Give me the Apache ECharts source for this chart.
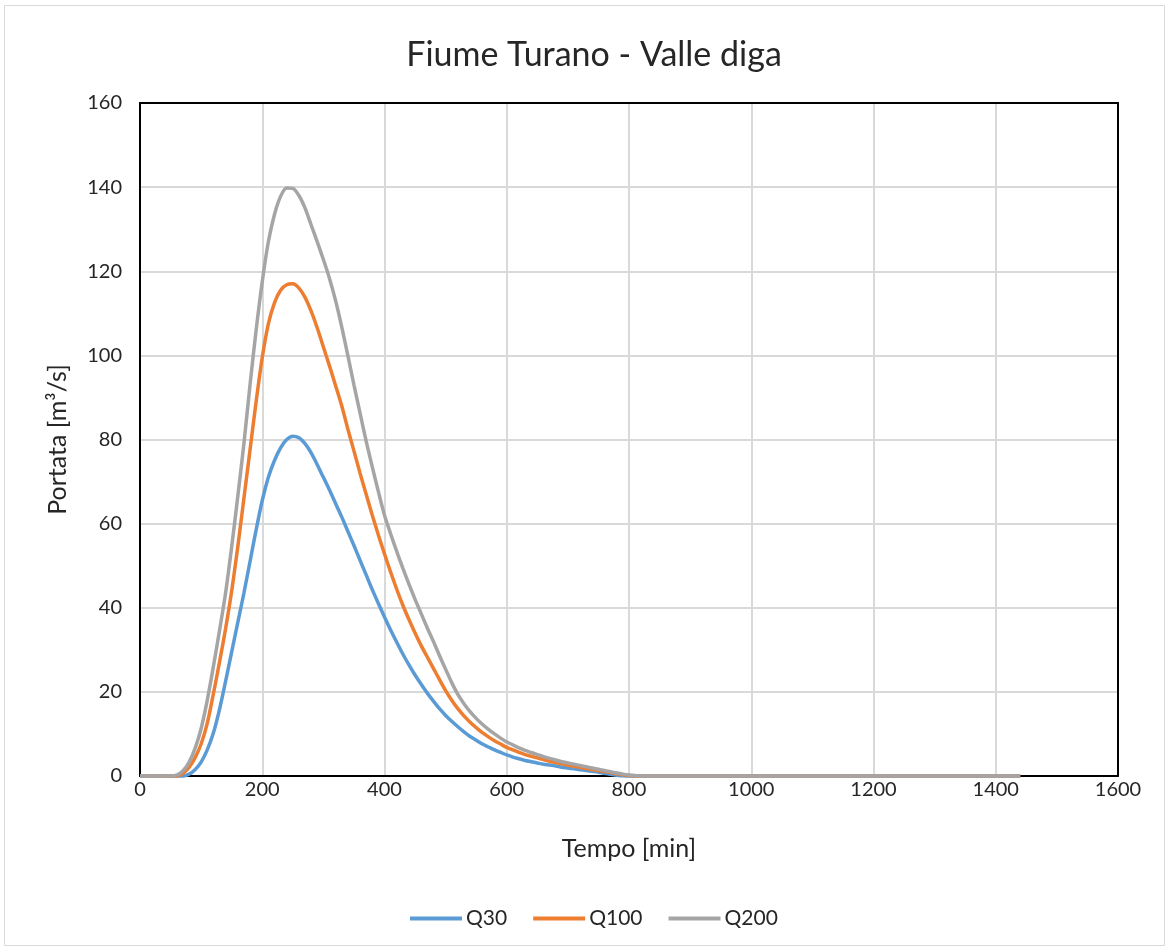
<!DOCTYPE html>
<html>
<head>
<meta charset="utf-8">
<title>Fiume Turano - Valle diga</title>
<script src="https://cdn.jsdelivr.net/npm/echarts@6/dist/echarts.min.js"></script>
<style>
  html, body { margin: 0; padding: 0; background: #ffffff; }
  #chart { width: 1167px; height: 951px; }
</style>
</head>
<body>
<div id="chart"></div>
<script>
// Time axis of the hydrographs [min]
const times = [
  0, 10, 20, 30, 40, 50, 60, 70, 80, 90,
  100, 110, 120, 130, 140, 150, 160, 170, 180, 190,
  200, 210, 220, 230, 240, 250, 260, 270, 280, 290,
  300, 310, 320, 330, 340, 350, 360, 370, 380, 390,
  400, 410, 420, 430, 440, 450, 460, 470, 480, 490,
  500, 510, 520, 530, 540, 550, 560, 570, 580, 590,
  600, 610, 620, 630, 640, 650, 660, 670, 680, 690,
  700, 710, 720, 730, 740, 750, 760, 770, 780, 790,
  800, 810, 820, 830, 840, 1440];

// Discharge [m3/s], return period 30 years
const q30 = [
  0, 0, 0, 0, 0, 0, 0, 0, 0.4, 1.5,
  3.3, 6.2, 10.2, 15.8, 22.5, 29.5, 36.5, 43.5, 51, 58.5,
  65.5, 71, 75, 78, 80, 80.8, 80.4, 79, 76.8, 74,
  71, 68, 64.8, 61.6, 58.2, 54.8, 51.3, 47.8, 44.3, 41,
  37.8, 34.7, 31.8, 29, 26.4, 24, 21.8, 19.7, 17.8, 16,
  14.4, 13, 11.7, 10.5, 9.4, 8.5, 7.6, 6.9, 6.2, 5.6,
  5.0, 4.5, 4.1, 3.7, 3.4, 3.1, 2.8, 2.6, 2.4, 2.1,
  1.9, 1.7, 1.5, 1.3, 1.1, 0.9, 0.65, 0.4, 0.2, 0.05,
  0, 0, 0, 0, 0, 0];

// Discharge [m3/s], return period 100 years
const q100 = [
  0, 0, 0, 0, 0, 0, 0, 0.6, 2, 4.3,
  7.6, 12.5, 19.5, 27, 35, 44, 54.5, 66, 77.5, 89,
  99.5, 107.5, 112.5, 115.5, 116.8, 117, 116, 113.8, 110.5, 106.5,
  102, 97.5, 92.8, 88, 82.5, 77.3, 72, 67, 62, 57.3,
  52.8, 48.5, 44.4, 40.6, 37.2, 34, 31, 28.3, 25.6, 22.9,
  20.3, 18, 16, 14.3, 12.8, 11.5, 10.3, 9.3, 8.4, 7.6,
  6.8, 6.2, 5.6, 5.1, 4.7, 4.3, 3.9, 3.5, 3.2, 2.9,
  2.6, 2.3, 2.05, 1.8, 1.55, 1.3, 1.05, 0.8, 0.55, 0.3,
  0.12, 0.03, 0, 0, 0, 0];

// Discharge [m3/s], return period 200 years
const q200 = [
  0, 0, 0, 0, 0, 0, 0.2, 1.2, 3.2, 6.5,
  11.3, 18, 26, 34.5, 43.5, 54.5, 66.5, 79, 93, 106,
  117.5, 127, 133.5, 137.8, 139.8, 139.7, 138, 135, 131, 127,
  122.8, 118.3, 113, 106.8, 100, 93, 86.3, 79.6, 73.5, 67.6,
  62, 57.6, 53.4, 49.4, 45.6, 42, 38.6, 35.2, 32, 28.6,
  25.4, 22.2, 19.4, 17.2, 15.3, 13.7, 12.3, 11.1, 10, 9,
  8.1, 7.4, 6.7, 6.1, 5.6, 5.1, 4.6, 4.2, 3.8, 3.4,
  3.1, 2.8, 2.5, 2.2, 1.9, 1.6, 1.3, 1.0, 0.7, 0.45,
  0.25, 0.1, 0, 0, 0, 0];

const seriesNames = ['Q30', 'Q100', 'Q200'];
const seriesValues = [q30, q100, q200];
const seriesColors = ['#5B9BD5', '#ED7D31', '#A5A5A5'];

const FONT = 'Lato';
const TEXT = '#262626';
const chart = echarts.init(document.getElementById('chart'), null, { renderer: 'canvas' });

const series = seriesNames.map((name, i) => ({
  name: name,
  type: 'line',
  xAxisIndex: 0,
  yAxisIndex: 0,
  data: times.map((t, k) => [t, seriesValues[i][k]]),
  showSymbol: false,
  symbol: 'none',
  smooth: 0.3,
  clip: false,
  z: 5 + i,
  lineStyle: { color: seriesColors[i], width: 3.5 },
  itemStyle: { color: seriesColors[i] }
}));

// Frame axes: they only draw the black border of the plot area
const frameAxis = {
  type: 'value',
  axisLine: { show: true, onZero: false, lineStyle: { color: '#000000', width: 2 } },
  axisTick: { show: false },
  axisLabel: { show: false },
  splitLine: { show: false }
};

chart.setOption({
  backgroundColor: '#ffffff',
  animation: false,
  textStyle: { fontFamily: FONT },
  title: {
    text: 'Fiume Turano - Valle diga',
    left: 589,
    textAlign: 'center',
    top: 33,
    textStyle: { fontFamily: FONT, fontSize: 34, fontWeight: 'normal', color: TEXT }
  },
  graphic: [{
    type: 'rect',
    shape: { x: 4.5, y: 5.5, width: 1160, height: 940 },
    style: { fill: null, stroke: '#d9d9d9', lineWidth: 1 },
    silent: true,
    z: -10
  }],
  legend: {
    data: seriesNames,
    left: 405,
    top: 903,
    icon: 'rect',
    itemWidth: 52,
    itemHeight: 4,
    itemGap: 26,
    textStyle: { fontFamily: FONT, fontSize: 21, color: TEXT, padding: [0, 0, 0, -1] }
  },
  grid: {
    left: 140,
    right: 49,
    top: 103,
    bottom: 175
  },
  xAxis: [{
    type: 'value',
    min: 0,
    max: 1600,
    interval: 200,
    name: 'Tempo [min]',
    nameLocation: 'middle',
    nameGap: 60,
    nameTextStyle: { fontFamily: FONT, fontSize: 25, color: TEXT },
    axisLine: { show: true, onZero: false, lineStyle: { color: '#000000', width: 2 } },
    axisTick: { show: false },
    axisLabel: { fontFamily: FONT, fontSize: 20, color: TEXT, margin: 4, formatter: v => String(v) },
    splitLine: { show: true, lineStyle: { color: '#d9d9d9', width: 2 } }
  }, Object.assign({ position: 'top', min: 0, max: 1600 }, frameAxis)],
  yAxis: [{
    type: 'value',
    min: 0,
    max: 160,
    interval: 20,
    name: 'Portata [m³/s]',
    nameLocation: 'middle',
    nameGap: 70,
    nameRotate: 90,
    nameTextStyle: { fontFamily: FONT, fontSize: 25, color: TEXT },
    axisLine: { show: true, onZero: false, lineStyle: { color: '#000000', width: 2 } },
    axisTick: { show: false },
    axisLabel: { fontFamily: FONT, fontSize: 20, color: TEXT, margin: 18 },
    splitLine: { show: true, lineStyle: { color: '#d9d9d9', width: 2 } }
  }, Object.assign({ position: 'right', min: 0, max: 160 }, frameAxis)],
  series: series
});
</script>
</body>
</html>
